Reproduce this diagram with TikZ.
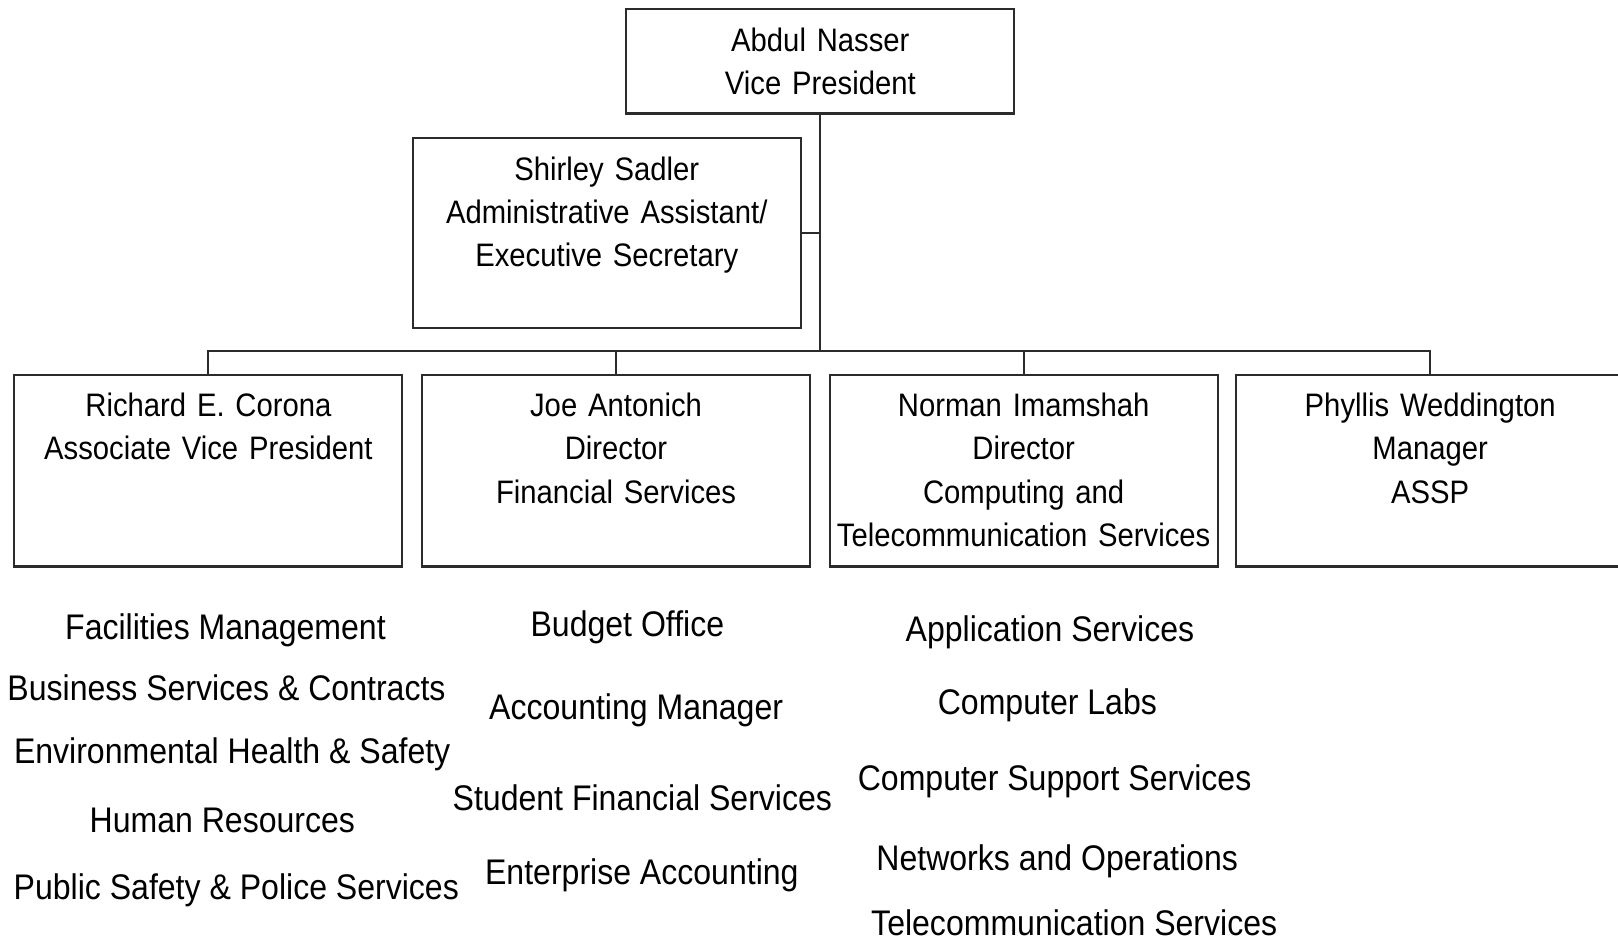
\documentclass[tikz,border=0pt]{standalone}
\usepackage{fontspec}
\setmainfont{Liberation Sans}[FakeStretch=0.9]
\usetikzlibrary{positioning}
\definecolor{lineDark}{HTML}{2b2b2b}

\begin{document}
\begin{tikzpicture}[x=0.5pt, y=0.5pt, box/.style={draw=lineDark, line width=1pt, text width=186pt, inner xsep=1pt, inner ysep=0pt, align=center, text height=20.25pt, font=\fontsize{15.75}{21}\selectfont}, dept/.style={anchor=base, inner sep=0pt, font=\fontsize{17.25}{20}\selectfont}, link/.style={draw=lineDark, line width=1pt}]
\useasboundingbox (0,0) rectangle (1568,-918);
\node[box, text depth=30.25pt, anchor=north] (vp) at (795,-8) {Abdul Nasser\\Vice President};
\node[box, text depth=71.75pt, anchor=north] (sec) at (588,-133) {Shirley Sadler\\Administrative Assistant/\\Executive Secretary};
\node[box, text depth=72.75pt, anchor=north] (avp) at (202,-362) {Richard E. Corona\\Associate Vice President};
\node[box, text depth=72.75pt, right=8.5pt of avp] (fin) {Joe Antonich\\Director\\Financial Services};
\node[box, text depth=72.75pt, right=8.5pt of fin] (cts) {Norman Imamshah\\Director\\Computing and\\Telecommunication Services};
\node[box, text depth=72.75pt, right=8pt of cts] (assp) {Phyllis Weddington\\Manager\\ASSP};
\draw[link] (avp.north) -- ++(0,22) coordinate (bus) -| (assp.north);
\draw[link] (vp.south) -- (vp.south |- bus);
\draw[link] (fin.north) -- (fin.north |- bus);
\draw[link] (cts.north) -- (cts.north |- bus);
\draw[link] (sec.east) -- (sec.east -| vp.south);
\node[dept] (fac) at (218.5,-620) {Facilities Management};
\node[dept] (bsc) at (219.5,-679) {Business Services \& Contracts};
\node[dept] (ehs) at (225,-740) {Environmental Health \& Safety};
\node[dept] (hr) at (215.5,-807) {Human Resources};
\node[dept] (psp) at (229,-872) {Public Safety \& Police Services};
\node[dept] (bud) at (608,-617) {Budget Office};
\node[dept] (acc) at (616.5,-697) {Accounting Manager};
\node[dept] (sfs) at (622.5,-785) {Student Financial Services};
\node[dept] (ent) at (622,-857) {Enterprise Accounting};
\node[dept] (app) at (1017.5,-622) {Application Services};
\node[dept] (lab) at (1015,-692) {Computer Labs};
\node[dept] (css) at (1022,-766) {Computer Support Services};
\node[dept] (net) at (1024.5,-844) {Networks and Operations};
\node[dept] (tel) at (1041,-907) {Telecommunication Services};
\end{tikzpicture}
\end{document}
